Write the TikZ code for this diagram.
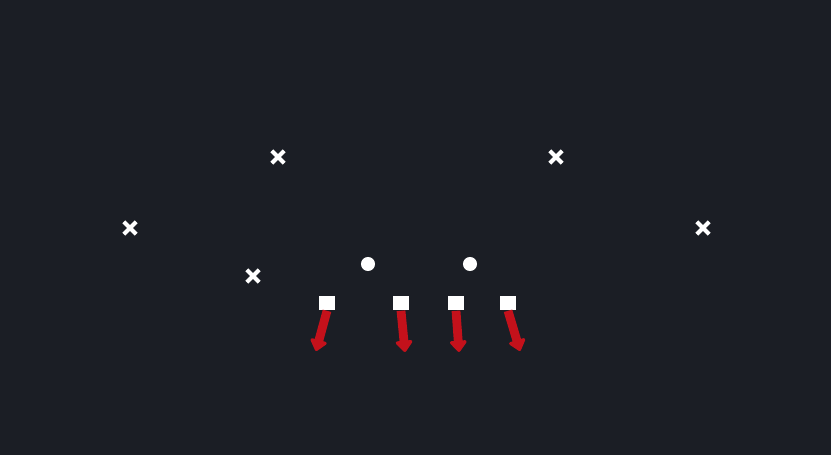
\documentclass[tikz,border=0pt]{standalone}
\usepackage{tikz}
\usetikzlibrary{arrows.meta, shapes.misc}
\definecolor{field}{HTML}{1B1E25}
\definecolor{route}{HTML}{C4111B}
\begin{document}
\begin{tikzpicture}[x=0.02cm, y=-0.02cm,
    defender/.style={cross out, draw=white, line width=2.4pt, minimum size=4.6pt, inner sep=0pt},
    back/.style={circle, fill=white, minimum size=8pt, inner sep=0pt},
    lineman/.style={rectangle, fill=white, minimum width=9pt, minimum height=8.5pt, inner sep=0pt},
    block/.style={route, line width=5pt, -{Triangle[width=11pt, length=7pt, round]}}]
      \fill[field] (0,0) rectangle (831,455);
      \useasboundingbox (0,0) rectangle (831,455);
      % defenders
      \node[defender] (d1) at (278,157) {};
      \node[defender] (d2) at (556,157) {};
      \node[defender] (d3) at (130,228) {};
      \node[defender] (d4) at (703,228) {};
      \node[defender] (d5) at (253,276) {};
      % backs
      \node[back] (b1) at (368,264) {};
      \node[back] (b2) at (470,264) {};
      % line
      \node[lineman] (s1) at (327,303) {};
      \node[lineman] (s2) at (401,303) {};
      \node[lineman] (s3) at (456,303) {};
      \node[lineman] (s4) at (508,303) {};
      \coordinate (e1) at (316,351);
      \coordinate (e2) at (405,352);
      \coordinate (e3) at (459,352);
      \coordinate (e4) at (520,351);
      % blocks
      \draw[block] (s1.south) -- (e1);
      \draw[block] (s2.south) -- (e2);
      \draw[block] (s3.south) -- (e3);
      \draw[block] (s4.south) -- (e4);
\end{tikzpicture}
\end{document}
